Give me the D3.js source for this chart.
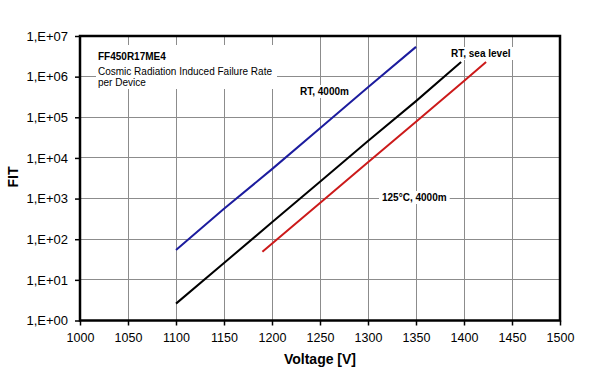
<!DOCTYPE html>
<html>
<head>
<meta charset="utf-8">
<script src="https://cdn.jsdelivr.net/npm/d3@7"></script>
<style>
  html, body { margin: 0; padding: 0; background: #fff; }
  svg { display: block; font-family: "Liberation Sans", Arial, sans-serif; }
</style>
</head>
<body>
<svg id="chart" width="605" height="377"></svg>
<script>
// ---- data ----
const xTicks = [1000, 1050, 1100, 1150, 1200, 1250, 1300, 1350, 1400, 1450, 1500];
const yTicks = [1, 1e1, 1e2, 1e3, 1e4, 1e5, 1e6, 1e7];
const yTickLabels = ["1,E+00", "1,E+01", "1,E+02", "1,E+03", "1,E+04", "1,E+05", "1,E+06", "1,E+07"];

const voltsRT4000 = [1100, 1150, 1200, 1250, 1300, 1350];
const fitRT4000   = [54, 560, 5300, 54000, 550000, 5400000];

const voltsRTsea = [1100, 1150, 1200, 1250, 1300, 1350, 1397];
const fitRTsea   = [2.6, 26, 260, 2600, 26000, 250000, 2300000];

const volts125 = [1190, 1250, 1300, 1350, 1400, 1423];
const fit125   = [49, 780, 7800, 78000, 780000, 2300000];

const series = [
  { name: "RT, 4000m", x: voltsRT4000, y: fitRT4000, color: "#1c1c9e" },
  { name: "RT, sea level", x: voltsRTsea, y: fitRTsea, color: "#000000" },
  { name: "125°C, 4000m", x: volts125, y: fit125, color: "#cc1a1a" }
];

// ---- layout ----
const svg = d3.select("#chart");
const L = 80, R = 560, T = 36, B = 320.5;
const x = d3.scaleLinear().domain([1000, 1500]).range([L, R]);
const y = d3.scaleLog().domain([1, 1e7]).range([B, T]);

// gridlines
const grid = svg.append("g");
grid.selectAll("line.v").data(xTicks.slice(1, -1)).join("line")
  .attr("x1", d => x(d)).attr("x2", d => x(d)).attr("y1", T).attr("y2", B)
  .attr("stroke", "#8c8c8c").attr("stroke-width", 1).attr("shape-rendering", "crispEdges");
grid.selectAll("line.h").data(yTicks.slice(1, -1)).join("line")
  .attr("x1", L).attr("x2", R).attr("y1", d => y(d)).attr("y2", d => y(d))
  .attr("stroke", "#8c8c8c").attr("stroke-width", 1).attr("shape-rendering", "crispEdges");

// title box (white, hides gridlines)
svg.append("rect").attr("x", 96).attr("y", 45).attr("width", 181).attr("height", 44).attr("fill", "#fff");
const title = svg.append("text").attr("font-size", 10).attr("fill", "#000");
title.append("tspan").attr("x", 98).attr("y", 60).attr("font-weight", "bold").text("FF450R17ME4");
title.append("tspan").attr("x", 98).attr("y", 75).text("Cosmic Radiation Induced Failure Rate");
title.append("tspan").attr("x", 98).attr("y", 86).text("per Device");

// series lines
const line = d3.line().x(d => x(d[0])).y(d => y(d[1]));
svg.append("g").selectAll("path").data(series).join("path")
  .attr("d", s => line(s.x.map((v, i) => [v, s.y[i]])))
  .attr("fill", "none").attr("stroke", s => s.color).attr("stroke-width", 2);

// series labels with white background
const labels = [
  { text: "RT, 4000m", lx: 300, ly: 95 },
  { text: "RT, sea level", lx: 451, ly: 57 },
  { text: "125°C, 4000m", lx: 382, ly: 201 }
];
labels.forEach(l => {
  const g = svg.append("g");
  const bg = g.append("rect").attr("fill", "#fff");
  const t = g.append("text").attr("x", l.lx).attr("y", l.ly)
    .attr("font-size", 10).attr("font-weight", "bold").attr("fill", "#000").text(l.text);
  const bb = t.node().getBBox();
  bg.attr("x", bb.x - 3).attr("y", bb.y - 1).attr("width", bb.width + 6).attr("height", bb.height + 2);
});

// axes
const xAxis = d3.axisBottom(x).tickValues(xTicks).tickSize(5).tickPadding(8).tickFormat(d3.format("d"));
const gx = svg.append("g").attr("transform", `translate(0,${B})`).call(xAxis);
gx.select(".domain").remove();
gx.selectAll("text").attr("font-size", 12.5).attr("fill", "#000").attr("font-family", "Liberation Sans, Arial, sans-serif");
gx.selectAll("line").attr("stroke", "#000").attr("stroke-width", 1.5);

const yAxis = d3.axisLeft(y).tickValues(yTicks).tickSize(5).tickPadding(7)
  .tickFormat(d => yTickLabels[yTicks.indexOf(d)]);
const gy = svg.append("g").attr("transform", `translate(${L},0)`).call(yAxis);
gy.select(".domain").remove();
gy.selectAll("text").attr("font-size", 13).attr("fill", "#000").attr("font-family", "Liberation Sans, Arial, sans-serif");
gy.selectAll("line").attr("stroke", "#000").attr("stroke-width", 1.5);

// plot border
svg.append("rect").attr("x", L).attr("y", T).attr("width", R - L).attr("height", B - T)
  .attr("fill", "none").attr("stroke", "#000").attr("stroke-width", 2.5);

// axis titles
svg.append("text").attr("x", 320).attr("y", 364).attr("text-anchor", "middle")
  .attr("font-size", 14).attr("font-weight", "bold").text("Voltage [V]");
svg.append("text").attr("transform", "translate(17.5,177) rotate(-90)").attr("text-anchor", "middle")
  .attr("font-size", 14).attr("font-weight", "bold").text("FIT");
</script>
</body>
</html>
